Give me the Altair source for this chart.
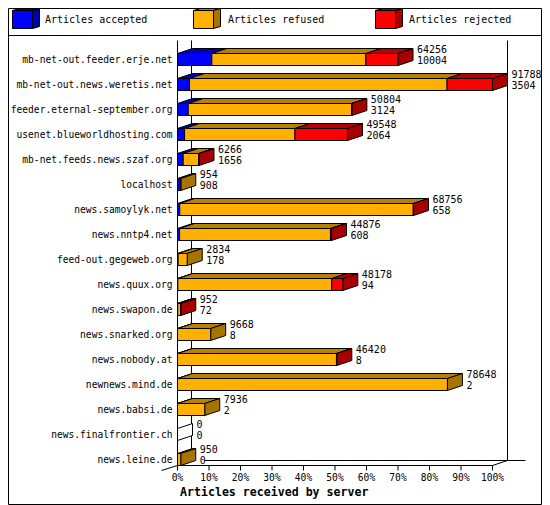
import altair as alt
import pandas as pd

servers = ["mb-net-out.feeder.erje.net", "mb-net-out.news.weretis.net",
           "feeder.eternal-september.org", "usenet.blueworldhosting.com",
           "mb-net.feeds.news.szaf.org", "localhost", "news.samoylyk.net",
           "news.nntp4.net", "feed-out.gegeweb.org", "news.quux.org",
           "news.swapon.de", "news.snarked.org", "news.nobody.at",
           "newnews.mind.de", "news.babsi.de", "news.finalfrontier.ch",
           "news.leine.de"]
totals = [64256, 91788, 50804, 49548, 6266, 954, 68756, 44876, 2834, 48178,
          952, 9668, 46420, 78648, 7936, 0, 950]
accepted = [10004, 3504, 3124, 2064, 1656, 908, 658, 608, 178, 94, 72, 8, 8, 2, 2, 0, 0]
refused = [44900, 75040, 47600, 32163, 4500, 46, 68048, 43968, 2656, 44853, 860, 9660,
           46312, 78646, 7934, 0, 950]
rejected = [9352, 13244, 80, 15321, 110, 0, 50, 300, 0, 3231, 20, 0, 100, 0, 0, 0, 0]
tick_labels = ["0%", "10%", "20%", "30%", "40%", "50%", "60%", "70%", "80%", "90%", "100%"]
tick_pct = [0, 10, 20, 30, 40, 50, 60, 70, 80, 90, 100]
legend_names = ["Articles accepted", "Articles refused", "Articles rejected"]

FRONT = ["#0000ff", "#ffb000", "#ff0000"]
TOP = ["#0000b8", "#b88000", "#b80000"]
SIDE = ["#0000a8", "#a87400", "#a80000"]
MONO = "DejaVu Sans Mono"
W, H = 534, 497
X0, X1 = 169.5, 484.5     # 0% and 100% in the drawing
SX = 15 / (X1 - X0) * 91788     # depth of a bar in article units
SY = 0.2                  # depth of a bar in rows
HH = 0.24                 # half height of a bar front in rows

xs = alt.Scale(domain=[0, 91788], range=[X0, X1], zero=False, nice=False)
ys = alt.Scale(domain=[0, 16], range=[51.5, 451.5], zero=False, nice=False)

fronts, tops, sides, labels = [], [], [], []
for i, name in enumerate(servers):
    cum = 0
    last = None
    for s, v in enumerate([accepted[i], refused[i], rejected[i]]):
        if v > 0:
            a, b = cum, cum + v
            fronts.append(dict(x=a, x2=b, y=i - HH, y2=i + HH, fill=FRONT[s]))
            fid = f"{i}-{s}"
            tops.append(dict(id=fid, y=i - HH, x=a, x2=b, fill=TOP[s]))
            tops.append(dict(id=fid, y=i - HH - SY, x=a + SX, x2=b + SX, fill=TOP[s]))
            cum = b
            last = s
    col = SIDE[last] if last is not None else "#ffffff"
    sides.append(dict(id=str(i), x=cum, y=i - HH, y2=i + HH, fill=col))
    sides.append(dict(id=str(i), x=cum + SX, y=i - HH - SY, y2=i + HH - SY, fill=col))
    labels.append(dict(name=name, row=i, end=totals[i] + SX,
                       top=str(totals[i]), bottom=str(accepted[i])))
labels = pd.DataFrame(labels)

# chart furniture, in pixels of the drawing
rules = pd.DataFrame([
    dict(x=0.5, y=0.5, x2=W - 0.5, y2=0.5), dict(x=0.5, y=H - 0.5, x2=W - 0.5, y2=H - 0.5),
    dict(x=0.5, y=0.5, x2=0.5, y2=H - 0.5), dict(x=W - 0.5, y=0.5, x2=W - 0.5, y2=H - 0.5),
    dict(x=0.5, y=27.5, x2=W - 0.5, y2=27.5),
    dict(x=X0, y=32.5, x2=X0, y2=457.5), dict(x=X0 + 14, y=32.5, x2=X0 + 14, y2=452.5),
    dict(x=X1 + 15, y=32.5, x2=X1 + 15, y2=452.5), dict(x=196.5, y=452.5, x2=X1 + 33, y2=452.5),
    dict(x=X0, y=457.5, x2=X1, y2=457.5), dict(x=X0 - 16, y=462.5, x2=X0, y2=457.5),
    dict(x=X1, y=457.5, x2=X1 + 15, y2=452.5),
])

px_x = alt.Scale(domain=[0, W], range=[0, W], zero=False, nice=False)
px_y = alt.Scale(domain=[0, H], range=[0, H], zero=False, nice=False)

sw_front, sw_top, sw_side, sw_text = [], [], [], []
for s, (sx, tx, nm) in enumerate(zip([4.5, 185.5, 367.5], [37, 220, 401], legend_names)):
    sw_front.append(dict(x=sx, x2=sx + 20, y=2.5, y2=20.5, fill=FRONT[s]))
    sw_top.append(dict(id=str(s), y=2.5, x=sx, x2=sx + 20, fill=TOP[s]))
    sw_top.append(dict(id=str(s), y=0.5, x=sx + 7, x2=sx + 27, fill=TOP[s]))
    sw_side.append(dict(id=str(s), x=sx + 20, y=2.5, y2=20.5, fill=SIDE[s]))
    sw_side.append(dict(id=str(s), x=sx + 27, y=0.5, y2=18.5, fill=SIDE[s]))
    sw_text.append(dict(x=tx, y=12, t=nm))

XA = dict(axis=None)


def rects(rows, sx, sy):
    return alt.Chart(pd.DataFrame(rows)).mark_rect(stroke="black", strokeWidth=1).encode(
        x=alt.X("x:Q", scale=sx, **XA), x2="x2:Q",
        y=alt.Y("y:Q", scale=sy, **XA), y2="y2:Q",
        fill=alt.Fill("fill:N", scale=None))


def top_faces(rows, sx, sy):
    return alt.Chart(pd.DataFrame(rows)).mark_area(
        orient="horizontal", stroke="black", strokeWidth=1, opacity=1).encode(
        x=alt.X("x:Q", scale=sx, stack=None, **XA), x2="x2:Q",
        y=alt.Y("y:Q", scale=sy, **XA),
        detail="id:N", fill=alt.Fill("fill:N", scale=None))


def side_faces(rows, sx, sy):
    return alt.Chart(pd.DataFrame(rows)).mark_area(
        orient="vertical", stroke="black", strokeWidth=1, opacity=1).encode(
        x=alt.X("x:Q", scale=sx, **XA),
        y=alt.Y("y:Q", scale=sy, stack=None, **XA), y2="y2:Q",
        detail="id:N", fill=alt.Fill("fill:N", scale=None))


frame = alt.Chart(rules).mark_rule(color="black", strokeWidth=1).encode(
    x=alt.X("x:Q", scale=px_x, **XA), x2="x2:Q",
    y=alt.Y("y:Q", scale=px_y, **XA), y2="y2:Q")

ticks_df = pd.DataFrame(dict(v=[p * 917.88 for p in tick_pct], t=tick_labels))
ticks = alt.Chart(ticks_df).mark_rule(color="black", strokeWidth=1).encode(
    x=alt.X("v:Q", scale=xs, **XA), y=alt.value(457.5), y2=alt.value(462.5))
tick_text = alt.Chart(ticks_df).mark_text(font=MONO, fontSize=9.6, color="black",
                                          align="center", baseline="middle").encode(
    x=alt.X("v:Q", scale=xs, **XA), y=alt.value(470), text="t:N")

names = alt.Chart(labels).mark_text(font=MONO, fontSize=9.6, color="black", align="right",
                                    baseline="middle").encode(
    x=alt.value(164.5), y=alt.Y("row:Q", scale=ys, **XA), text="name:N")
upper = alt.Chart(labels).mark_text(font=MONO, fontSize=10, color="black", align="left",
                                    baseline="middle", dx=4, dy=-9.5).encode(
    x=alt.X("end:Q", scale=xs, **XA), y=alt.Y("row:Q", scale=ys, **XA), text="top:N")
lower = alt.Chart(labels).mark_text(font=MONO, fontSize=10, color="black", align="left",
                                    baseline="middle", dx=4, dy=1.5).encode(
    x=alt.X("end:Q", scale=xs, **XA), y=alt.Y("row:Q", scale=ys, **XA), text="bottom:N")

legend_text = alt.Chart(pd.DataFrame(sw_text)).mark_text(
    font=MONO, fontSize=10, color="black", align="left", baseline="middle").encode(
    x=alt.X("x:Q", scale=px_x, **XA), y=alt.Y("y:Q", scale=px_y, **XA), text="t:N")

title = alt.Chart(pd.DataFrame(dict(t=["Articles received by server"]))).mark_text(
    font=MONO, fontSize=11.6, fontWeight="bold", color="black", align="left",
    baseline="middle").encode(x=alt.value(172), y=alt.value(484.5), text="t:N")

chart = alt.layer(
    frame, ticks, tick_text,
    top_faces(tops, xs, ys), side_faces(sides, xs, ys), rects(fronts, xs, ys),
    names, upper, lower,
    top_faces(sw_top, px_x, px_y), side_faces(sw_side, px_x, px_y), rects(sw_front, px_x, px_y),
    legend_text, title,
).resolve_scale(x="independent", y="independent").properties(
    width=W, height=H, padding=0, background="white",
    autosize=alt.AutoSizeParams(type="none"),
).configure_view(stroke=None)

chart.save("out.html", embed_options={"renderer": "svg", "actions": False})
